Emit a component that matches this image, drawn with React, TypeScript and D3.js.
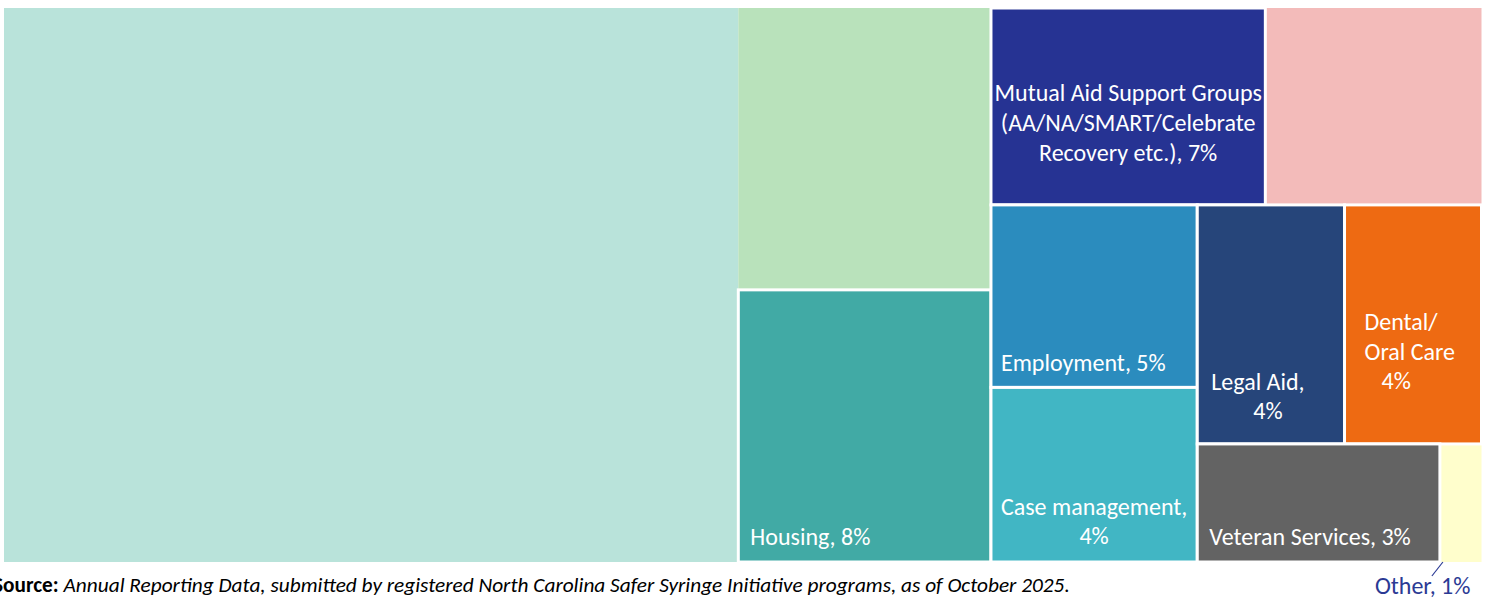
import React from "react";
import * as d3 from "d3";

// ---- data ----
const categories = [
  "Substance Use Treatment",
  "Medical Care",
  "Housing",
  "Mutual Aid Support Groups (AA/NA/SMART/Celebrate Recovery etc.)",
  "Mental Health",
  "Employment",
  "Case management",
  "Legal Aid",
  "Dental/ Oral Care",
  "Veteran Services",
  "Other",
];
const shares = [49.7, 8.7, 8.4, 6.6, 5.2, 4.6, 4.4, 4.3, 4.0, 3.5, 0.6];
const pctLabels = ["", "", "8%", "7%", "", "5%", "4%", "4%", "4%", "3%", "1%"];
const colors = [
  "#b9e3da",
  "#b9e2bb",
  "#41aaa5",
  "#263393",
  "#f3bbba",
  "#2b8cbe",
  "#41b6c4",
  "#26457a",
  "#ee6a12",
  "#636363",
  "#fffecc",
];
const bordered = [false, false, true, true, false, true, true, true, true, true, false];

const sourceBold = "Source:";
const sourceText = " Annual Reporting Data, submitted by registered North Carolina Safer Syringe Initiative programs, as of October 2025.";

// ---- label layout (relative to the tile computed by d3) ----
type Line = { text: string; anchor: "start" | "middle"; ref: "x0" | "cx"; dx: number; yRef: "y0" | "y1"; dy: number };
const labelLayout: Record<string, Line[]> = {
  Housing: [{ text: "Housing, 8%", anchor: "start", ref: "x0", dx: 12, yRef: "y1", dy: -17 }],
  "Mutual Aid Support Groups (AA/NA/SMART/Celebrate Recovery etc.)": [
    { text: "Mutual Aid Support Groups", anchor: "middle", ref: "cx", dx: 0, yRef: "y0", dy: 93 },
    { text: "(AA/NA/SMART/Celebrate", anchor: "middle", ref: "cx", dx: 0, yRef: "y0", dy: 123 },
    { text: "Recovery etc.), 7%", anchor: "middle", ref: "cx", dx: 0, yRef: "y0", dy: 153 },
  ],
  Employment: [{ text: "Employment, 5%", anchor: "start", ref: "x0", dx: 10, yRef: "y1", dy: -16 }],
  "Case management": [
    { text: "Case management,", anchor: "middle", ref: "cx", dx: 0, yRef: "y1", dy: -47 },
    { text: "4%", anchor: "middle", ref: "cx", dx: 0, yRef: "y1", dy: -18 },
  ],
  "Legal Aid": [
    { text: "Legal Aid,", anchor: "start", ref: "x0", dx: 14, yRef: "y1", dy: -54 },
    { text: "4%", anchor: "middle", ref: "cx", dx: -3, yRef: "y1", dy: -25 },
  ],
  "Dental/ Oral Care": [
    { text: "Dental/", anchor: "start", ref: "x0", dx: 20, yRef: "y1", dy: -114 },
    { text: "Oral Care", anchor: "start", ref: "x0", dx: 20, yRef: "y1", dy: -84 },
    { text: "4%", anchor: "start", ref: "x0", dx: 37, yRef: "y1", dy: -55 },
  ],
  "Veteran Services": [{ text: "Veteran Services, 3%", anchor: "start", ref: "x0", dx: 12, yRef: "y1", dy: -17 }],
};

const W = 1489;
const H = 597;
const FONT = "Carlito, Calibri, Lato, 'Open Sans', sans-serif";

export default function App() {
  const root = d3
    .hierarchy({ name: "root", children: categories.map((c, i) => ({ name: c, value: shares[i], idx: i })) } as any)
    .sum((d: any) => d.value || 0);

  d3.treemap().tile(d3.treemapSquarify.ratio(1)).size([1477.5, 554]).round(false)(root as any);

  const leaves = root.leaves() as any[];
  const other = leaves.find((l) => l.data.name === "Other");

  return (
    <svg width={W} height={H} style={{ position: "absolute", left: 0, top: 0, background: "#fff" }}>
      <g transform="translate(4,8)">
        {leaves
          .filter((l) => !bordered[l.data.idx])
          .map((l) => (
            <rect key={l.data.name} x={l.x0} y={l.y0} width={l.x1 - l.x0} height={l.y1 - l.y0} fill={colors[l.data.idx]} />
          ))}
        {leaves
          .filter((l) => bordered[l.data.idx])
          .map((l) => (
            <rect
              key={l.data.name}
              x={l.x0}
              y={l.y0}
              width={l.x1 - l.x0}
              height={l.y1 - l.y0}
              fill={colors[l.data.idx]}
              stroke="#fff"
              strokeWidth={3}
            />
          ))}
        {leaves.map((l) => {
          const lines = labelLayout[l.data.name];
          if (!lines) return null;
          const cx = (l.x0 + l.x1) / 2;
          return (
            <g key={"lab" + l.data.name}>
              {lines.map((ln, j) => (
                <text
                  key={j}
                  x={(ln.ref === "cx" ? cx : l.x0) + ln.dx}
                  y={(ln.yRef === "y0" ? l.y0 : l.y1) + ln.dy}
                  textAnchor={ln.anchor}
                  fill="#fff"
                  fontFamily={FONT}
                  fontSize={24}
                >
                  {ln.text}
                </text>
              ))}
            </g>
          );
        })}
        {other && (
          <g>
            <line x1={other.x0 + 3} y1={other.y1} x2={other.x0 - 8} y2={other.y1 + 14} stroke="#2b3a94" strokeWidth={1.2} />
            <text x={other.x0 - 65} y={other.y1 + 32} fill="#2b3a94" fontFamily={FONT} fontSize={24}>
              {"Other, " + pctLabels[10]}
            </text>
          </g>
        )}
      </g>
      <text x={-7} y={592} fontFamily={FONT} fontSize={21.3} fill="#000">
        <tspan fontWeight="bold">{sourceBold}</tspan>
        <tspan fontStyle="italic">{sourceText}</tspan>
      </text>
    </svg>
  );
}
